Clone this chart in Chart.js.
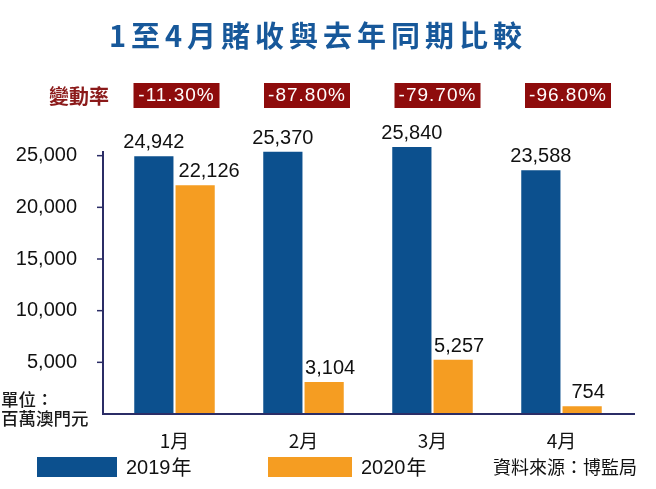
<!DOCTYPE html>
<html>
<head>
<meta charset="utf-8">
<script src="https://cdn.jsdelivr.net/npm/chart.js@4.4.0/dist/chart.umd.min.js"></script>
<style>
  html, body { margin: 0; padding: 0; background: #fff; }
  #wrap { width: 656px; height: 489px; }
</style>
</head>
<body>
<div id="wrap"><canvas id="gaming" width="656" height="489"></canvas></div>
<script>
// data
const months = ["1月", "2月", "3月", "4月"];
const rev2019 = [24942, 25370, 25840, 23588];
const rev2020 = [22126, 3104, 5257, 754];
const changes = ["-11.30%", "-87.80%", "-79.70%", "-96.80%"];
const yTicks = [5000, 10000, 15000, 20000, 25000];

const BLUE = "#0c508e";
const ORANGE = "#f59d22";
const RED = "#8e0c0c";
const AXIS = "#2b2d66";
const NUM = "'Liberation Sans', Arial, sans-serif";
const CJK = "'Noto Sans CJK TC', 'Noto Sans CJK SC', sans-serif";

function fmt(v) { return v.toLocaleString("en-US"); }

const decor = {
	id: "decor",
	afterDraw(chart) {
		const ctx = chart.ctx;
		const x = chart.scales.x, y = chart.scales.y;
		const axisX = 103, bottom = y.getPixelForValue(0);
		ctx.save();

		// title
		ctx.fillStyle = "#17589a";
		ctx.font = "bold 29px " + CJK;
		ctx.letterSpacing = "5px";
		ctx.textAlign = "center";
		ctx.textBaseline = "middle";
		ctx.fillText("1至4月賭收與去年同期比較", 318, 36);
		ctx.letterSpacing = "0px";

		// change-rate row
		ctx.fillStyle = "#8b1a1a";
		ctx.font = "bold 20px " + CJK;
		ctx.textAlign = "left";
		ctx.fillText("變動率", 49, 96);
		months.forEach((m, i) => {
			const cx = x.getPixelForValue(i) + 2 + i * 1.5;
			ctx.fillStyle = RED;
			ctx.fillRect(cx - 43, 83, 86, 25);
			ctx.fillStyle = "#fff";
			ctx.font = "19px " + NUM;
			ctx.textAlign = "center";
			ctx.letterSpacing = "1px";
			ctx.fillText(changes[i], cx, 96);
			ctx.letterSpacing = "0px";
		});

		// axes
		ctx.strokeStyle = AXIS;
		ctx.lineWidth = 2;
		ctx.beginPath();
		ctx.moveTo(axisX, 151);
		ctx.lineTo(axisX, bottom);
		ctx.lineTo(635, bottom);
		ctx.stroke();
		ctx.lineWidth = 1.5;
		yTicks.forEach(v => {
			const py = y.getPixelForValue(v);
			ctx.beginPath();
			ctx.moveTo(axisX - 6, py);
			ctx.lineTo(axisX, py);
			ctx.stroke();
		});

		// value labels
		ctx.fillStyle = "#111";
		ctx.font = "20px " + NUM;
		ctx.textAlign = "center";
		ctx.textBaseline = "alphabetic";
		chart.data.datasets.forEach((ds, di) => {
			chart.getDatasetMeta(di).data.forEach((bar, i) => {
				const shift = di === 1 ? (i === 0 ? 14 : 6) : 0;
				ctx.fillText(fmt(ds.data[i]), bar.x + shift, bar.y - 8);
			});
		});

		// unit note
		ctx.fillStyle = "#1a1a1a";
		ctx.font = "500 17.5px " + CJK;
		ctx.textAlign = "left";
		ctx.textBaseline = "middle";
		ctx.fillText("單位：", 1, 399);
		ctx.fillText("百萬澳門元", 1, 418);

		// legend
		chart.data.datasets.forEach((ds, di) => {
			const lx = di === 0 ? 37 : 268;
			const w = di === 0 ? 80 : 84;
			ctx.fillStyle = ds.backgroundColor;
			ctx.fillRect(lx, 457, w, 20);
			ctx.fillStyle = "#111";
			ctx.font = "20px " + NUM;
			const yr = ds.label.replace("年", "");
			ctx.fillText(yr, lx + w + 9, 468);
			const tw = ctx.measureText(yr).width;
			ctx.font = "20px " + CJK;
			ctx.fillText("年", lx + w + 10 + tw, 467);
		});

		// source
		ctx.font = "18px " + CJK;
		ctx.textAlign = "right";
		ctx.fillText("資料來源：博監局", 637, 467);
		ctx.restore();
	}
};

new Chart("gaming", {
	type: "bar",
	data: {
		labels: months,
		datasets: [
			{ label: "2019年", data: rev2019, backgroundColor: BLUE },
			{ label: "2020年", data: rev2020, backgroundColor: ORANGE }
		]
	},
	options: {
		responsive: false,
		animation: false,
		events: [],
		layout: { padding: { top: 104, right: 30, left: 0, bottom: 0 } },
		datasets: { bar: { categoryPercentage: 0.64, barPercentage: 0.95 } },
		plugins: {
			legend: { display: false },
			title: { display: false },
			tooltip: { enabled: false }
		},
		scales: {
			x: {
				grid: { display: false },
				border: { display: false },
				ticks: { color: "#111", padding: 7, font: { family: CJK, size: 19 } },
				afterFit(s) { s.height = 75; }
			},
			y: {
				min: 0,
				max: 30000,
				grid: { display: false },
				border: { display: false },
				ticks: {
					stepSize: 5000,
					padding: 25,
					color: "#111",
					font: { family: NUM, size: 20 },
					callback: v => (v === 0 || v === 30000) ? "" : fmt(v)
				},
				afterFit(s) { s.width = 110; }
			}
		}
	},
	plugins: [decor]
});
</script>
</body>
</html>
